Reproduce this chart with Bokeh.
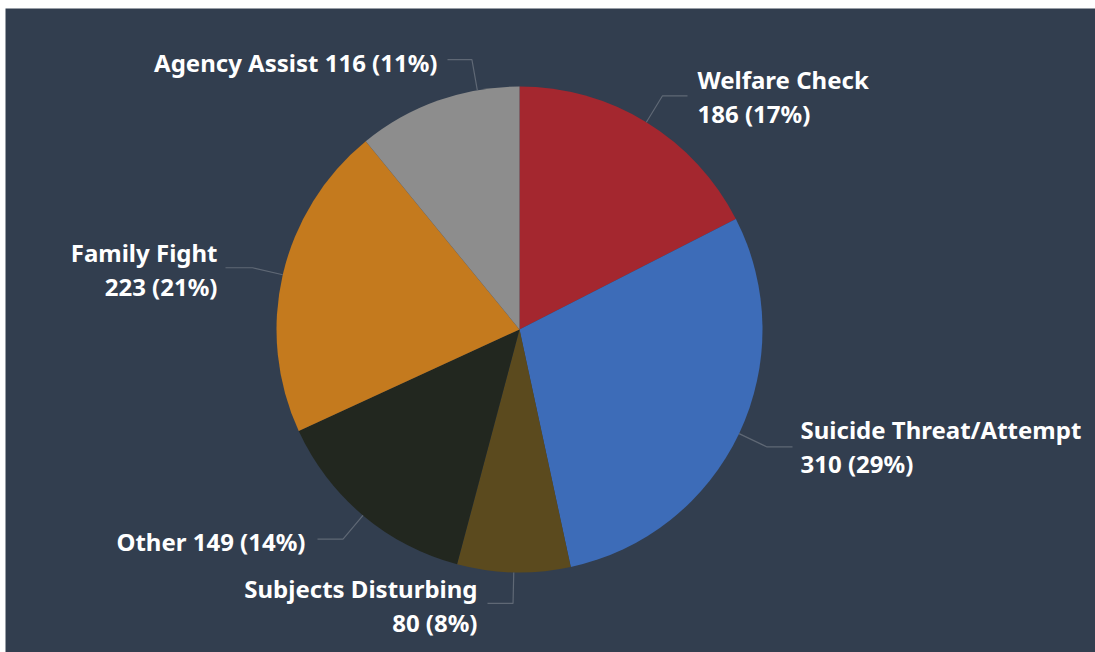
import math
from bokeh.plotting import figure
from bokeh.models import ColumnDataSource
from bokeh.embed import file_html
from bokeh.resources import INLINE
from bokeh.core.properties import value

# ---- data ----
categories = ["Welfare Check", "Suicide Threat/Attempt", "Subjects Disturbing",
              "Other", "Family Fight", "Agency Assist"]
counts = [186, 310, 80, 149, 223, 116]
colors = ["#a4272f", "#3d6cb8", "#5b4a1e", "#22271f", "#c47a1e", "#8d8d8d"]

# ---- layout (page pixel positions of labels) ----
W, H = 1095, 652
LEFT, TOP = 5, 8
FW, FH = W - LEFT, H - TOP
BG = "#323e4f"
FONT = "Noto Sans"
FSIZE = "24px"
LINE_GAP = 34

def X(px):
    return px - LEFT

def Y(py):
    return H - py

CX, CY, R = X(519), Y(329), 243
ELBOW = 31

# two_lines, align, anchor x, first baseline, leader end x, leader angle override (deg)
label_layout = {
    "Welfare Check": (True, "left", 697, 79, 687, None),
    "Suicide Threat/Attempt": (True, "left", 800, 429, 792, None),
    "Subjects Disturbing": (True, "right", 477, 588, 487, None),
    "Other": (False, "right", 305, 541, 317, None),
    "Family Fight": (True, "right", 217, 252, 225, None),
    "Agency Assist": (False, "right", 437, 62, 447, 100),
}

total = sum(counts)
starts, ends, mids = [], [], []
cum = 0
for c in counts:
    a0 = math.pi / 2 - 2 * math.pi * cum / total
    cum += c
    a1 = math.pi / 2 - 2 * math.pi * cum / total
    starts.append(a1)
    ends.append(a0)
    mids.append((a0 + a1) / 2)

src = ColumnDataSource(dict(x=[CX] * len(counts), y=[CY] * len(counts),
                            start=starts, end=ends, color=colors, cat=categories))

p = figure(width=W, height=H, x_range=(0, FW), y_range=(0, FH),
           output_backend="svg", toolbar_location=None,
           min_border_left=LEFT, min_border_top=TOP,
           min_border_right=0, min_border_bottom=0,
           background_fill_color=BG, border_fill_color="white")
p.axis.visible = False
p.grid.visible = False
p.outline_line_color = None

p.wedge(x="x", y="y", radius=R, start_angle="start", end_angle="end",
        fill_color="color", line_color=None, source=src)

lx, ly, lt, la = [], [], [], []
xs_lines, ys_lines = [], []
for i, cat in enumerate(categories):
    two, align, ax, base, endx, ang = label_layout[cat]
    pct = round(100 * counts[i] / total)
    num = f"{counts[i]} ({pct}%)"
    a = math.radians(ang) if ang is not None else mids[i]
    ex, ey = CX + R * math.cos(a), CY + R * math.sin(a)
    bx, by = CX + (R + ELBOW) * math.cos(a), CY + (R + ELBOW) * math.sin(a)
    xs_lines.append([ex, bx, X(endx)])
    ys_lines.append([ey, by, by])
    if two:
        lines = [cat, num]
    else:
        lines = [f"{cat} {num}"]
    for k, t in enumerate(lines):
        lx.append(X(ax))
        ly.append(Y(base + k * LINE_GAP))
        lt.append(t)
        la.append(align)

p.multi_line(xs=xs_lines, ys=ys_lines, line_color="#5f6875", line_width=1.2)

tsrc = ColumnDataSource(dict(x=lx, y=ly, text=lt, align=la))
p.text(x="x", y="y", text="text", text_align="align", text_baseline="alphabetic",
       text_color="#ffffff", text_font=value(FONT), text_font_style="bold",
       text_font_size=FSIZE, source=tsrc)

open("out.html", "w").write(file_html(p, INLINE))
